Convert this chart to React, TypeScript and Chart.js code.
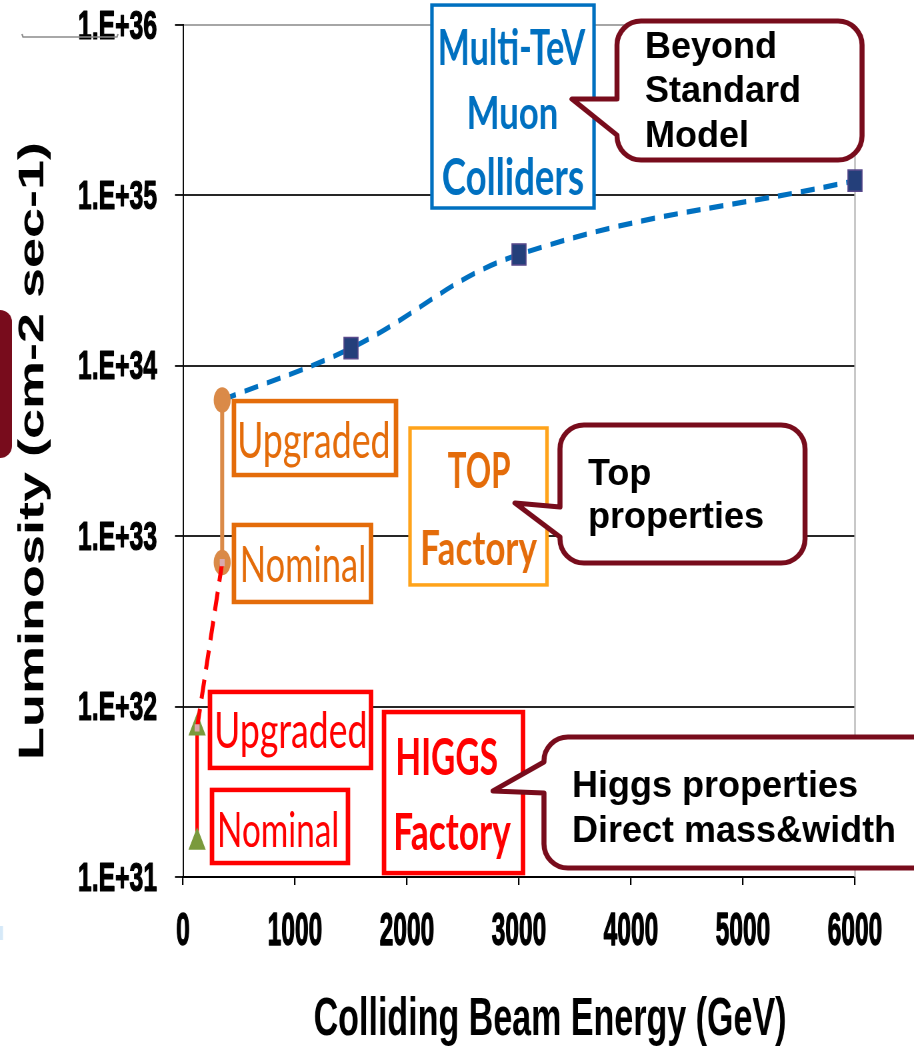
import React, { useEffect, useRef } from 'react';
import { Chart, registerables } from 'chart.js';

Chart.register(...registerables);

// The reference picture is stretched vertically; chart units -> CSS px (y) factor
const STRETCH = 1.5;
const CANVAS_W = 914;
const CANVAS_H = 701;

// ---------------- data ----------------
const xTickValues = [0, 1000, 2000, 3000, 4000, 5000, 6000];
const xTickLabels = ['0', '1000', '2000', '3000', '4000', '5000', '6000'];
const yTickValues = [1e31, 1e32, 1e33, 1e34, 1e35, 1e36];
const yTickLabels = ['1.E+31', '1.E+32', '1.E+33', '1.E+34', '1.E+35', '1.E+36'];

const muonEnergy = [350, 1500, 3000, 6000];
const muonLumi = [6.3e33, 1.27e34, 4.5e34, 1.22e35];
const topEnergy = [350, 350];
const topLumi = [6.3e33, 7.0e32];
const higgsEnergy = [126, 126];
const higgsLumi = [7.5e31, 1.6e31];
const linkEnergy = [126, 350];
const linkLumi = [7.5e31, 7.0e32];

const xTitle = 'Colliding Beam Energy (GeV)';
const yTitle = 'Luminosity (cm-2 sec-1)';

// ---------------- annotations (x in GeV, e = log10 luminosity) ----------------
const boxFont = 'Lato, "Liberation Sans", sans-serif';
const labelBoxes = [
  { x0: 2223, x1: 3670, e0: 36.117, e1: 34.926, stroke: '#0070c0', lw: 3.5, color: '#0070c0', weight: 'bold',
    lines: [
      { text: 'Multi-TeV', x: 2946, e: 35.871, w: 145, cap: 36 },
      { text: 'Muon', x: 2946, e: 35.489, w: 87, cap: 33 },
      { text: 'Colliders', x: 2946, e: 35.108, w: 140, cap: 37 },
    ] },
  { x0: 455, x1: 1902, e0: 33.793, e1: 33.359, stroke: '#e46c0a', lw: 4.5, color: '#e46c0a', weight: 'normal',
    lines: [{ text: 'Upgraded', x: 1170, e: 33.57, w: 148, cap: 37 }] },
  { x0: 455, x1: 1679, e0: 33.066, e1: 32.614, stroke: '#e46c0a', lw: 4.5, color: '#e46c0a', weight: 'normal',
    lines: [{ text: 'Nominal', x: 1076, e: 32.837, w: 121, cap: 37 }] },
  { x0: 241, x1: 1679, e0: 32.086, e1: 31.64, stroke: '#ff0000', lw: 4.5, color: '#ff0000', weight: 'normal',
    lines: [{ text: 'Upgraded', x: 964, e: 31.863, w: 148, cap: 36 }] },
  { x0: 259, x1: 1473, e0: 31.511, e1: 31.082, stroke: '#ff0000', lw: 4.5, color: '#ff0000', weight: 'normal',
    lines: [{ text: 'Nominal', x: 853, e: 31.279, w: 117, cap: 35 }] },
  { x0: 2027, x1: 3250, e0: 33.635, e1: 32.714, stroke: '#ffa31a', lw: 3.5, color: '#e46c0a', weight: 'bold',
    lines: [
      { text: 'TOP', x: 2643, e: 33.389, w: 62, cap: 36 },
      { text: 'Factory', x: 2652, e: 32.934, w: 114, cap: 35 },
    ] },
  { x0: 1795, x1: 3036, e0: 31.968, e1: 31.023, stroke: '#ff0000', lw: 4.5, color: '#ff0000', weight: 'bold',
    lines: [
      { text: 'HIGGS', x: 2362, e: 31.71, w: 99, cap: 38 },
      { text: 'Factory', x: 2415, e: 31.268, w: 115, cap: 37 },
    ] },
];

const calloutColor = '#780c1c';
const callouts = [
  { x0: 3875, x1: 6063, e0: 36.023, e1: 35.208, tipX: 3473, tipE: 35.566, baseTopE: 35.566, baseBotE: 35.354,
    textX: 4125, lines: [{ text: 'Beyond', e: 35.806 }, { text: 'Standard', e: 35.548 }, { text: 'Model', e: 35.284 }] },
  { x0: 3366, x1: 5554, e0: 33.653, e1: 32.843, tipX: 2964, tipE: 33.195, baseTopE: 33.171, baseBotE: 32.995,
    textX: 3616, lines: [{ text: 'Top', e: 33.3 }, { text: 'properties', e: 33.048 }] },
  { x0: 3223, x1: 6759, e0: 31.822, e1: 31.053, tipX: 2768, tipE: 31.505, baseTopE: 31.675, baseBotE: 31.493,
    textX: 3473, lines: [{ text: 'Higgs properties', e: 31.469 }, { text: 'Direct mass&width', e: 31.205 }] },
];

const axisFamily = '"Liberation Sans", Arial, sans-serif';

// ---------------- helpers (CSS-pixel space) ----------------
function fitText(ctx: CanvasRenderingContext2D, text: string, cx: number, cy: number, w: number, cap: number,
  weight: string, family: string, color: string) {
  ctx.save();
  ctx.font = `${weight} 100px ${family}`;
  ctx.textAlign = 'left';
  ctx.textBaseline = 'alphabetic';
  const m = ctx.measureText(text);
  const capH = ctx.measureText('H').actualBoundingBoxAscent || 72;
  const L = m.actualBoundingBoxLeft;
  const R = m.actualBoundingBoxRight;
  const sx = w / (L + R);
  const sy = cap / capH;
  ctx.translate(cx, cy);
  ctx.scale(sx, sy);
  ctx.fillStyle = color;
  ctx.fillText(text, (L - R) / 2, capH / 2);
  ctx.restore();
}

// condensed, vertically stretched tick text (cap centred on cy)
function squeezedText(ctx: CanvasRenderingContext2D, text: string, x: number, cy: number, align: CanvasTextAlign,
  cap: number, sx: number) {
  ctx.save();
  ctx.font = `bold 100px ${axisFamily}`;
  ctx.textAlign = align;
  ctx.textBaseline = 'alphabetic';
  const capH = ctx.measureText('H').actualBoundingBoxAscent || 72;
  const sy = cap / capH;
  ctx.translate(x, cy);
  ctx.scale(sx, sy);
  ctx.fillStyle = '#000000';
  ctx.strokeStyle = '#000000';
  ctx.lineWidth = 3;
  ctx.lineJoin = 'round';
  ctx.fillText(text, 0, capH / 2);
  ctx.strokeText(text, 0, capH / 2);
  ctx.restore();
}

function calloutPath(ctx: CanvasRenderingContext2D, x0: number, y0: number, x1: number, y1: number, r: number,
  tx: number, ty: number, bTop: number, bBot: number) {
  ctx.beginPath();
  ctx.moveTo(x0 + r, y0);
  ctx.lineTo(x1 - r, y0);
  ctx.arcTo(x1, y0, x1, y0 + r, r);
  ctx.lineTo(x1, y1 - r);
  ctx.arcTo(x1, y1, x1 - r, y1, r);
  ctx.lineTo(x0 + r, y1);
  ctx.arcTo(x0, y1, x0, y1 - r, r);
  ctx.lineTo(x0, bBot);
  ctx.lineTo(tx, ty);
  ctx.lineTo(x0, bTop);
  ctx.lineTo(x0, y0 + r);
  ctx.arcTo(x0, y0, x0 + r, y0, r);
  ctx.closePath();
}

const decorPlugin = {
  id: 'decor',
  beforeDatasetsDraw(chart: any) {
    const { ctx, chartArea } = chart;
    ctx.save();
    ctx.strokeStyle = '#b3b3b3';
    ctx.lineWidth = 1.5;
    ctx.beginPath();
    ctx.moveTo(chartArea.right, chartArea.top);
    ctx.lineTo(chartArea.right, chartArea.bottom);
    ctx.stroke();
    ctx.restore();
  },
  afterDatasetsDraw(chart: any) {
    const { ctx } = chart;
    const xs = chart.scales.x;
    const ys = chart.scales.y;
    const X = (g: number) => xs.getPixelForValue(g);
    const Y = (e: number) => ys.getPixelForValue(Math.pow(10, e)) * STRETCH;
    ctx.save();
    ctx.scale(1, 1 / STRETCH); // work in CSS pixels

    for (const b of labelBoxes) {
      const x0 = X(b.x0), x1 = X(b.x1), y0 = Y(b.e0), y1 = Y(b.e1);
      ctx.fillStyle = '#ffffff';
      ctx.fillRect(x0, y0, x1 - x0, y1 - y0);
      ctx.strokeStyle = b.stroke;
      ctx.lineWidth = b.lw;
      ctx.lineJoin = 'miter';
      ctx.strokeRect(x0, y0, x1 - x0, y1 - y0);
      for (const l of b.lines) {
        fitText(ctx, l.text, X(l.x), Y(l.e), l.w, l.cap, b.weight, boxFont, b.color);
      }
    }

    for (const c of callouts) {
      const x0 = X(c.x0), x1 = X(c.x1), y0 = Y(c.e0), y1 = Y(c.e1);
      calloutPath(ctx, x0, y0, x1, y1, 24, X(c.tipX), Y(c.tipE), Y(c.baseTopE), Y(c.baseBotE));
      ctx.fillStyle = '#ffffff';
      ctx.fill();
      ctx.strokeStyle = calloutColor;
      ctx.lineWidth = 5;
      ctx.lineJoin = 'round';
      ctx.stroke();
      ctx.fillStyle = '#000000';
      ctx.font = 'bold 36px "Liberation Sans", Arial, sans-serif';
      ctx.textAlign = 'left';
      ctx.textBaseline = 'alphabetic';
      for (const l of c.lines) ctx.fillText(l.text, X(c.textX), Y(l.e));
    }
    ctx.restore();
  },
  afterDraw(chart: any) {
    const { ctx } = chart;
    const xs = chart.scales.x;
    const ys = chart.scales.y;
    ctx.save();
    ctx.scale(1, 1 / STRETCH);
    // tick labels, condensed like the original's narrow face
    xs.ticks.forEach((t: any) => {
      const label = xTickLabels[xTickValues.indexOf(t.value)];
      squeezedText(ctx, label, xs.getPixelForValue(t.value), 929, 'center', 32, 0.245);
    });
    ys.ticks.forEach((t: any) => {
      const label = yTickLabels[yTickValues.indexOf(t.value)];
      squeezedText(ctx, label, 157, ys.getPixelForValue(t.value) * STRETCH - 1, 'right', 29, 0.247);
    });
    // x-axis title
    fitText(ctx, xTitle, 550, 1016, 470, 37, 'bold', axisFamily, '#000000');
    // leftover fragments at the picture's left edge
    ctx.strokeStyle = '#8c8c8c';
    ctx.lineWidth = 1.5;
    ctx.beginPath();
    ctx.moveTo(22, 34);
    ctx.lineTo(23, 37);
    ctx.lineTo(117, 37);
    ctx.lineTo(118, 34);
    ctx.stroke();
    ctx.fillStyle = calloutColor;
    ctx.beginPath();
    ctx.moveTo(-30, 310);
    ctx.lineTo(0, 310);
    ctx.arcTo(12, 310, 12, 322, 12);
    ctx.lineTo(12, 446);
    ctx.arcTo(12, 458, 0, 458, 12);
    ctx.lineTo(-30, 458);
    ctx.closePath();
    ctx.fill();
    ctx.fillStyle = '#d6e9f8';
    ctx.fillRect(0, 926, 3, 14);
    ctx.restore();
  },
};

const hiddenTick = { family: axisFamily, weight: 'bold' as const, size: 20 };

export default function App() {
  const ref = useRef<HTMLCanvasElement>(null);
  useEffect(() => {
    if (!ref.current) return;
    const pts = (xs: number[], ys: number[]) => xs.map((x, i) => ({ x, y: ys[i] }));
    const chart = new Chart(ref.current, {
      type: 'line',
      data: {
        datasets: [
          {
            label: 'link',
            data: pts(linkEnergy, linkLumi),
            borderColor: '#ff0000',
            borderWidth: 4,
            borderDash: [13, 7],
            pointStyle: 'rect',
            pointRadius: 3.5,
            pointBackgroundColor: '#d9a9ae',
            pointBorderColor: '#d9a9ae',
            pointBorderWidth: 0,
            tension: 0,
          },
          {
            label: 'TOP Factory',
            data: pts(topEnergy, topLumi),
            borderColor: '#da8a48',
            borderWidth: 4,
            pointStyle: 'circle',
            pointRadius: 6.5,
            pointBackgroundColor: '#da8a48',
            pointBorderColor: '#da8a48',
            tension: 0,
          },
          {
            label: 'HIGGS Factory',
            data: pts(higgsEnergy, higgsLumi),
            borderColor: '#ff0000',
            borderWidth: 3.5,
            pointStyle: 'triangle',
            pointRadius: 9,
            pointBackgroundColor: '#7a9a3c',
            pointBorderColor: '#7a9a3c',
            pointBorderWidth: 1,
            tension: 0,
          },
          {
            label: 'Muon Colliders',
            data: pts(muonEnergy, muonLumi),
            borderColor: '#0070c0',
            borderWidth: 3.5,
            borderDash: [14, 9],
            pointStyle: 'rect',
            pointRadius: [0, 10, 10, 10],
            pointBackgroundColor: '#243f7a',
            pointBorderColor: '#5a4a8c',
            pointBorderWidth: 1,
            tension: 0.4,
            cubicInterpolationMode: 'default',
            clip: false as any,
          },
        ],
      },
      options: {
        animation: false,
        responsive: false,
        devicePixelRatio: STRETCH,
        events: [],
        layout: { padding: { top: 25 / STRETCH, right: 59, left: 0, bottom: 0 } },
        plugins: { legend: { display: false }, tooltip: { enabled: false } },
        scales: {
          x: {
            type: 'linear',
            min: 0,
            max: 6000,
            afterBuildTicks: (scale: any) => { scale.ticks = xTickValues.map((v) => ({ value: v })); },
            afterFit: (scale: any) => {
              scale.height = CANVAS_H - 877 / STRETCH;
              scale.paddingLeft = 0;
              scale.paddingRight = 0;
            },
            ticks: {
              autoSkip: false,
              maxRotation: 0,
              padding: 12,
              color: 'rgba(0,0,0,0)',
              font: hiddenTick,
              callback: (v: any) => xTickLabels[xTickValues.indexOf(Number(v))],
            },
            grid: { drawOnChartArea: false, drawTicks: true, tickLength: 8 / STRETCH, color: '#000000', lineWidth: 1.5 },
            border: { color: '#000000', width: 1.4 },
            title: { display: false, text: xTitle },
          },
          y: {
            type: 'logarithmic',
            min: 1e31,
            max: 1e36,
            afterBuildTicks: (scale: any) => { scale.ticks = yTickValues.map((v) => ({ value: v })); },
            afterFit: (scale: any) => {
              scale.width = 183;
              scale.paddingTop = 0;
              scale.paddingBottom = 0;
            },
            ticks: {
              autoSkip: false,
              padding: 18,
              color: 'rgba(0,0,0,0)',
              font: hiddenTick,
              callback: (v: any) => yTickLabels[yTickValues.indexOf(Number(v))],
            },
            grid: {
              drawTicks: true,
              tickLength: 8,
              lineWidth: 1.3,
              tickColor: '#1a1a1a',
              color: (c: any) => (c.tick && c.tick.value === 1e36 ? '#a6a6a6' : '#262626'),
            },
            border: { color: '#000000', width: 1.3 },
            title: {
              display: true,
              text: yTitle,
              color: '#000000',
              font: { family: axisFamily, weight: 'bold', size: 36 },
              padding: { top: 12, bottom: 0 },
            },
          },
        },
      },
      plugins: [decorPlugin],
    } as any);
    return () => chart.destroy();
  }, []);

  return (
    <div style={{ position: 'absolute', left: 0, top: 0, width: CANVAS_W, height: 1051, background: '#ffffff' }}>
      <canvas
        ref={ref}
        width={CANVAS_W}
        height={CANVAS_H}
        style={{ display: 'block', width: `${CANVAS_W}px`, height: `${Math.floor(CANVAS_H * STRETCH)}px` }}
      />
    </div>
  );
}
